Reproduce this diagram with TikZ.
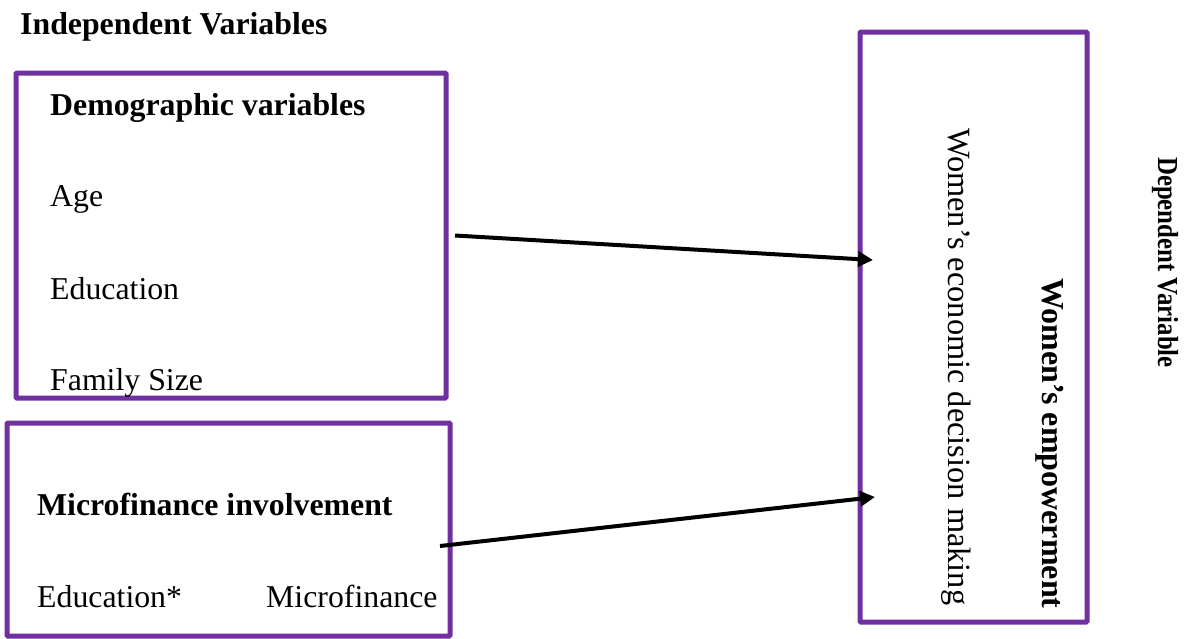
\documentclass[tikz,border=0pt]{standalone}
\usepackage{fontspec}
\usepackage{graphicx}
\setmainfont{Liberation Serif}
\usetikzlibrary{arrows.meta}
\definecolor{boxpurple}{RGB}{112,48,160}
\tikzset{
  frame/.style={draw=boxpurple, line width=5pt, rounded corners=1pt, inner sep=0pt, outer sep=0pt, fill=white},
  lbl/.style={inner sep=0pt, anchor=base west, font=\fontsize{31.8}{36}\selectfont},
  blbl/.style={lbl, font=\fontsize{31.8}{36}\selectfont\bfseries},
  arr/.style={line width=4pt, -{Triangle[length=15pt,width=15pt]}},
}
\begin{document}
\begin{tikzpicture}[x=1pt,y=-1pt]
\useasboundingbox (0,0) rectangle (1203,638);

% boxes
\node[frame, minimum width=430pt, minimum height=325pt] (demo) at (231,235.5) {};
\node[frame, minimum width=443pt, minimum height=213pt] (micro) at (228.5,529.5) {};
\node[frame, minimum width=227pt, minimum height=590pt] (dv) at (973.5,327) {};

% headings and items
\node[blbl] (indep) at (20,34) {Independent Variables};
\node[blbl] (demotitle) at (50,115) {Demographic variables};
\node[lbl] (age) at (50,206) {Age};
\node[lbl] (edu) at (50,299) {Education};
\node[lbl] (fam) at (50,390) {Family Size};
\node[blbl] (microtitle) at (37,515) {Microfinance involvement};
\node[lbl] (edustar) at (37,607) {Education*};
\node[lbl] (mf) at (266,607) {Microfinance};

% vertical labels
\node[lbl, rotate=-90, font=\fontsize{32.4}{36}\selectfont] (wedm) at (948,128) {Women’s economic decision making};
\node[blbl, rotate=-90, font=\fontsize{32}{36}\selectfont\bfseries] (wemp) at (1042,278) {Women’s empowerment};
\node[blbl, rotate=-90, font=\fontsize{29}{34}\selectfont\bfseries] (dep) at (1158,157) {\scalebox{0.855}[1]{Dependent Variable}};

% connectors
\draw[arr] ([xshift=9pt]demo.east) -- ([xshift=13pt,yshift=67pt]dv.west);
\draw[arr] ([xshift=-10pt,yshift=-16.5pt]micro.east) -- ([xshift=15pt,yshift=-170pt]dv.west);
\end{tikzpicture}
\end{document}
